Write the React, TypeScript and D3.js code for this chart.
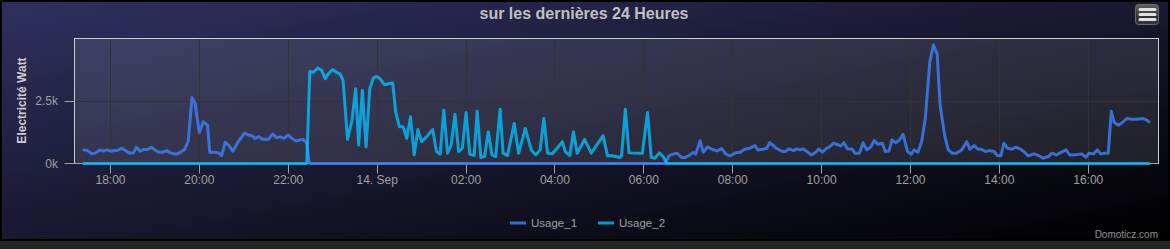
import React from "react";
import * as d3 from "d3";

const chartTitle = "sur les dernières 24 Heures";
const yAxisTitle = "Electricité Watt";
const credits = "Domoticz.com";
const seriesNames = ["Usage_1", "Usage_2"];
const seriesColors = ["rgba(60,130,252,0.8)", "rgba(3,190,252,0.8)"];
const yTickValues = [0, 2500];
const yMax = 5000;
const xDomainStart = "17:11:24";
const xDomainEnd = "17:34:48";

const usage1Times = [
  "17:24", "17:29", "17:35", "17:40", "17:46", "17:50", "17:55", "18:00", "18:06", "18:10",
  "18:15", "18:20", "18:25", "18:31", "18:35", "18:40", "18:44", "18:50", "18:55", "19:00",
  "19:05", "19:10", "19:16", "19:21", "19:26", "19:30", "19:36", "19:40", "19:45", "19:50",
  "19:54", "20:00", "20:05", "20:11", "20:14", "20:21", "20:26", "20:30", "20:35", "20:40",
  "20:45", "20:52", "21:01", "21:06", "21:11", "21:15", "21:20", "21:26", "21:33", "21:39",
  "21:44", "21:50", "21:54", "22:00", "22:05", "22:10", "22:16", "22:20", "22:25", "22:28",
  "22:30", "06:29", "06:34", "06:40", "06:45", "06:51", "06:56", "07:01", "07:07", "07:10",
  "07:16", "07:20", "07:26", "07:32", "07:39", "07:45", "07:51", "07:56", "08:04", "08:10",
  "08:16", "08:23", "08:30", "08:34", "08:41", "08:46", "08:50", "08:59", "09:07", "09:11",
  "09:16", "09:22", "09:26", "09:31", "09:35", "09:40", "09:46", "09:52", "09:56", "10:01",
  "10:07", "10:11", "10:16", "10:20", "10:26", "10:30", "10:35", "10:41", "10:45", "10:51",
  "10:56", "11:01", "11:06", "11:11", "11:16", "11:22", "11:26", "11:31", "11:35", "11:40",
  "11:45", "11:50", "11:56", "12:01", "12:05", "12:10", "12:15", "12:20", "12:26", "12:31",
  "12:36", "12:40", "12:46", "12:51", "12:56", "13:02", "13:09", "13:16", "13:20", "13:26",
  "13:31", "13:36", "13:41", "13:47", "13:53", "13:57", "14:02", "14:06", "14:11", "14:17",
  "14:22", "14:28", "14:34", "14:39", "14:47", "14:53", "14:59", "15:06", "15:11", "15:17",
  "15:24", "15:30", "15:35", "15:42", "15:51", "15:57", "16:01", "16:07", "16:12", "16:17",
  "16:23", "16:27", "16:31", "16:35", "16:41", "16:46", "16:52", "16:59", "17:05", "17:14",
  "17:19", "17:22",
];
const usage1Values = [
  544, 516, 385, 425, 544, 492, 544, 492, 516, 530,
  611, 516, 425, 425, 650, 492, 557, 557, 650, 544,
  450, 450, 516, 425, 385, 385, 478, 557, 900, 2635,
  2420, 1245, 1667, 1535, 450, 450, 425, 317, 850, 715,
  492, 850, 1218, 1139, 1113, 1006, 1073, 966, 966, 1179,
  1033, 1060, 1006, 1139, 1006, 900, 940, 966, 810, 80,
  0, 0, 318, 385, 412, 238, 238, 318, 452, 370,
  913, 452, 663, 570, 504, 597, 370, 305, 425, 452,
  570, 610, 715, 544, 570, 610, 833, 610, 478, 478,
  584, 516, 584, 544, 584, 478, 345, 452, 584, 452,
  610, 676, 810, 770, 703, 833, 584, 584, 412, 412,
  833, 544, 650, 913, 770, 810, 478, 504, 940, 833,
  940, 1165, 478, 370, 544, 452, 873, 1800, 4048, 4750,
  4380, 2330, 1139, 544, 412, 412, 544, 873, 570, 715,
  570, 570, 478, 516, 478, 318, 305, 810, 610, 570,
  650, 584, 452, 305, 385, 318, 212, 278, 412, 345,
  452, 544, 345, 345, 385, 252, 412, 385, 544, 385,
  412, 412, 2090, 1640, 1535, 1640, 1800, 1774, 1774, 1800,
  1734, 1667,
];

const usage2Times = [
  "17:24", "22:25", "22:29", "22:34", "22:40", "22:45", "22:50", "22:54", "23:00", "23:05",
  "23:10", "23:14", "23:20", "23:26", "23:31", "23:35", "23:40", "23:45", "23:50", "23:55",
  "23:59", "00:04", "00:10", "00:15", "00:21", "00:25", "00:30", "00:35", "00:40", "00:45",
  "00:50", "00:55", "01:00", "01:07", "01:15", "01:20", "01:25", "01:30", "01:35", "01:40",
  "01:45", "01:50", "01:55", "02:00", "02:05", "02:11", "02:15", "02:20", "02:25", "02:30",
  "02:35", "02:40", "02:46", "02:50", "02:56", "03:05", "03:11", "03:20", "03:28", "03:34",
  "03:40", "03:45", "03:50", "03:56", "04:03", "04:10", "04:14", "04:20", "04:25", "04:30",
  "04:40", "04:49", "05:05", "05:11", "05:16", "05:28", "05:30", "05:35", "05:40", "05:58",
  "06:05", "06:10", "06:15", "06:21", "06:26", "06:31", "17:22",
];
const usage2Values = [
  0, 0, 3680, 3650, 3824, 3730, 3388, 3587, 3760, 3650,
  3587, 3320, 966, 1734, 2990, 742, 2924, 663, 2990, 3428,
  3490, 3388, 3150, 3190, 3216, 2064, 1468, 1468, 1006, 1866,
  345, 1363, 873, 1073, 1363, 478, 373, 2130, 412, 742,
  1972, 478, 610, 2038, 373, 318, 2090, 238, 278, 1270,
  345, 278, 2170, 412, 318, 1603, 412, 1404, 544, 345,
  544, 1800, 412, 385, 610, 873, 478, 318, 1270, 412,
  966, 412, 1113, 305, 318, 238, 318, 2170, 425, 412,
  2038, 238, 212, 425, 278, 0, 0,
];

type Pt = { date: Date; value: number };

function buildSeries(times: string[], values: number[]): Pt[] {
  let day = 0;
  let prev = -1;
  return times.map((t, i) => {
    const [h, m] = t.split(":").map(Number);
    const mins = h * 60 + m;
    if (mins < prev) day += 1;
    prev = mins;
    return { date: new Date(2019, 8, 13 + day, h, m), value: values[i] };
  });
}

function parseClock(t: string, day: number): Date {
  const [h, m, s] = t.split(":").map(Number);
  return new Date(2019, 8, 13 + day, h, m, s || 0);
}

const W = 1170;
const H = 249;
const chartH = 241;
const plotLeft = 74.5;
const plotRight = 1158.5;
const plotTop = 38.5;
const plotBottom = 163.5;
const font = "'Liberation Sans', Arial, sans-serif";

export default function App() {
  const series = [buildSeries(usage1Times, usage1Values), buildSeries(usage2Times, usage2Values)];
  const x = d3
    .scaleTime()
    .domain([parseClock(xDomainStart, 0), parseClock(xDomainEnd, 1)])
    .range([plotLeft, plotRight]);
  const y = d3.scaleLinear().domain([0, yMax]).range([plotBottom, plotTop]);
  const line = d3
    .line<Pt>()
    .x((d) => x(d.date))
    .y((d) => y(d.value))
    .curve(d3.curveLinear);
  const xTicks = d3.timeHour.every(2)!.range(x.domain()[0], x.domain()[1]);
  const fmtHour = d3.timeFormat("%H:%M");
  const fmtDay = d3.timeFormat("%-d. %b");
  const label = (d: Date) => (d.getHours() === 0 && d.getMinutes() === 0 ? fmtDay(d) : fmtHour(d));
  const crisp = (v: number) => Math.round(v - 0.5) + 0.5;

  const legendX = [510, 598];
  const legendY = 223;

  return (
    <div style={{ position: "absolute", left: 0, top: 0 }}>
      <svg width={W} height={H} style={{ display: "block" }}>
        <defs>
          <linearGradient id="bg" x1="0" y1="0" x2="1" y2="1">
            <stop offset="0" stopColor="rgb(48,48,96)" />
            <stop offset="1" stopColor="rgb(0,0,0)" />
          </linearGradient>
          <linearGradient id="btn" x1="0" y1="0" x2="0" y2="1">
            <stop offset="0" stopColor="#606060" />
            <stop offset="0.6" stopColor="#333333" />
          </linearGradient>
        </defs>
        <rect x={0} y={chartH} width={W} height={H - chartH} fill="#242424" />
        <rect x={1} y={1} width={W - 2} height={chartH - 2} fill="url(#bg)" stroke="#000" strokeWidth={2} />
        <rect
          x={plotLeft}
          y={plotTop}
          width={plotRight - plotLeft}
          height={plotBottom - plotTop}
          fill="rgba(255,255,255,0.1)"
        />
        {/* grid */}
        {xTicks.map((t, i) => (
          <line key={"gx" + i} x1={crisp(x(t))} x2={crisp(x(t))} y1={plotTop} y2={plotBottom} stroke="#333333" />
        ))}
        {yTickValues.map((v, i) => (
          <line key={"gy" + i} x1={plotLeft} x2={plotRight} y1={crisp(y(v))} y2={crisp(y(v))} stroke="#333333" />
        ))}
        <rect
          x={plotLeft}
          y={plotTop}
          width={plotRight - plotLeft}
          height={plotBottom - plotTop}
          fill="none"
          stroke="#CCCCCC"
        />
        {/* x axis */}
        <line x1={plotLeft} x2={plotRight} y1={plotBottom} y2={plotBottom} stroke="#A0A0A0" />
        {xTicks.map((t, i) => (
          <g key={"xt" + i}>
            <line x1={crisp(x(t))} x2={crisp(x(t))} y1={plotBottom} y2={plotBottom + 10} stroke="#A0A0A0" />
            <text x={x(t)} y={184} textAnchor="middle" fill="#A0A0A0" fontSize={12} fontFamily={font}>
              {label(t)}
            </text>
          </g>
        ))}
        {/* y axis */}
        {yTickValues.map((v, i) => (
          <g key={"yt" + i}>
            <line x1={plotLeft - 10} x2={plotLeft} y1={crisp(y(v))} y2={crisp(y(v))} stroke="#A0A0A0" />
            <text x={58} y={y(v) + 4} textAnchor="end" fill="#A0A0A0" fontSize={12} fontFamily={font}>
              {v / 1000 + "k"}
            </text>
          </g>
        ))}
        <text
          transform={`translate(25.5, ${(plotTop + plotBottom) / 2 - 0.5}) rotate(-90)`}
          textAnchor="middle"
          fill="#CCCCCC"
          fontSize={12}
          fontWeight="bold"
          fontFamily={font}
        >
          {yAxisTitle}
        </text>
        {/* series */}
        {series.map((s, i) => (
          <path
            key={"s" + i}
            d={line(s) || ""}
            fill="none"
            stroke={seriesColors[i]}
            strokeWidth={3}
            strokeLinejoin="round"
            strokeLinecap="round"
          />
        ))}
        {/* title */}
        <text x={W / 2 - 1} y={19} textAnchor="middle" fill="#C0C0C0" fontSize={16} fontWeight="bold" fontFamily={font}>
          {chartTitle}
        </text>
        {/* legend */}
        {seriesNames.map((n, i) => (
          <g key={"lg" + i}>
            <line x1={legendX[i]} x2={legendX[i] + 16} y1={legendY} y2={legendY} stroke={seriesColors[i]} strokeWidth={3} />
            <text x={legendX[i] + 21} y={legendY + 4} fill="#A0A0A0" fontSize={11.5} fontFamily={font}>
              {n}
            </text>
          </g>
        ))}
        {/* credits */}
        <text x={1158} y={238} textAnchor="end" fill="#909090" fontSize={10} fontFamily={font}>
          {credits}
        </text>
        {/* menu button */}
        <rect x={1135.5} y={4.5} width={23} height={20} rx={3} fill="url(#btn)" stroke="#6a6a6a" />
        {[9.5, 14.5, 19.5].map((yy, i) => (
          <line key={"mb" + i} x1={1140} x2={1155} y1={yy} y2={yy} stroke="#E0E0E0" strokeWidth={3} strokeLinecap="round" />
        ))}
      </svg>
    </div>
  );
}
